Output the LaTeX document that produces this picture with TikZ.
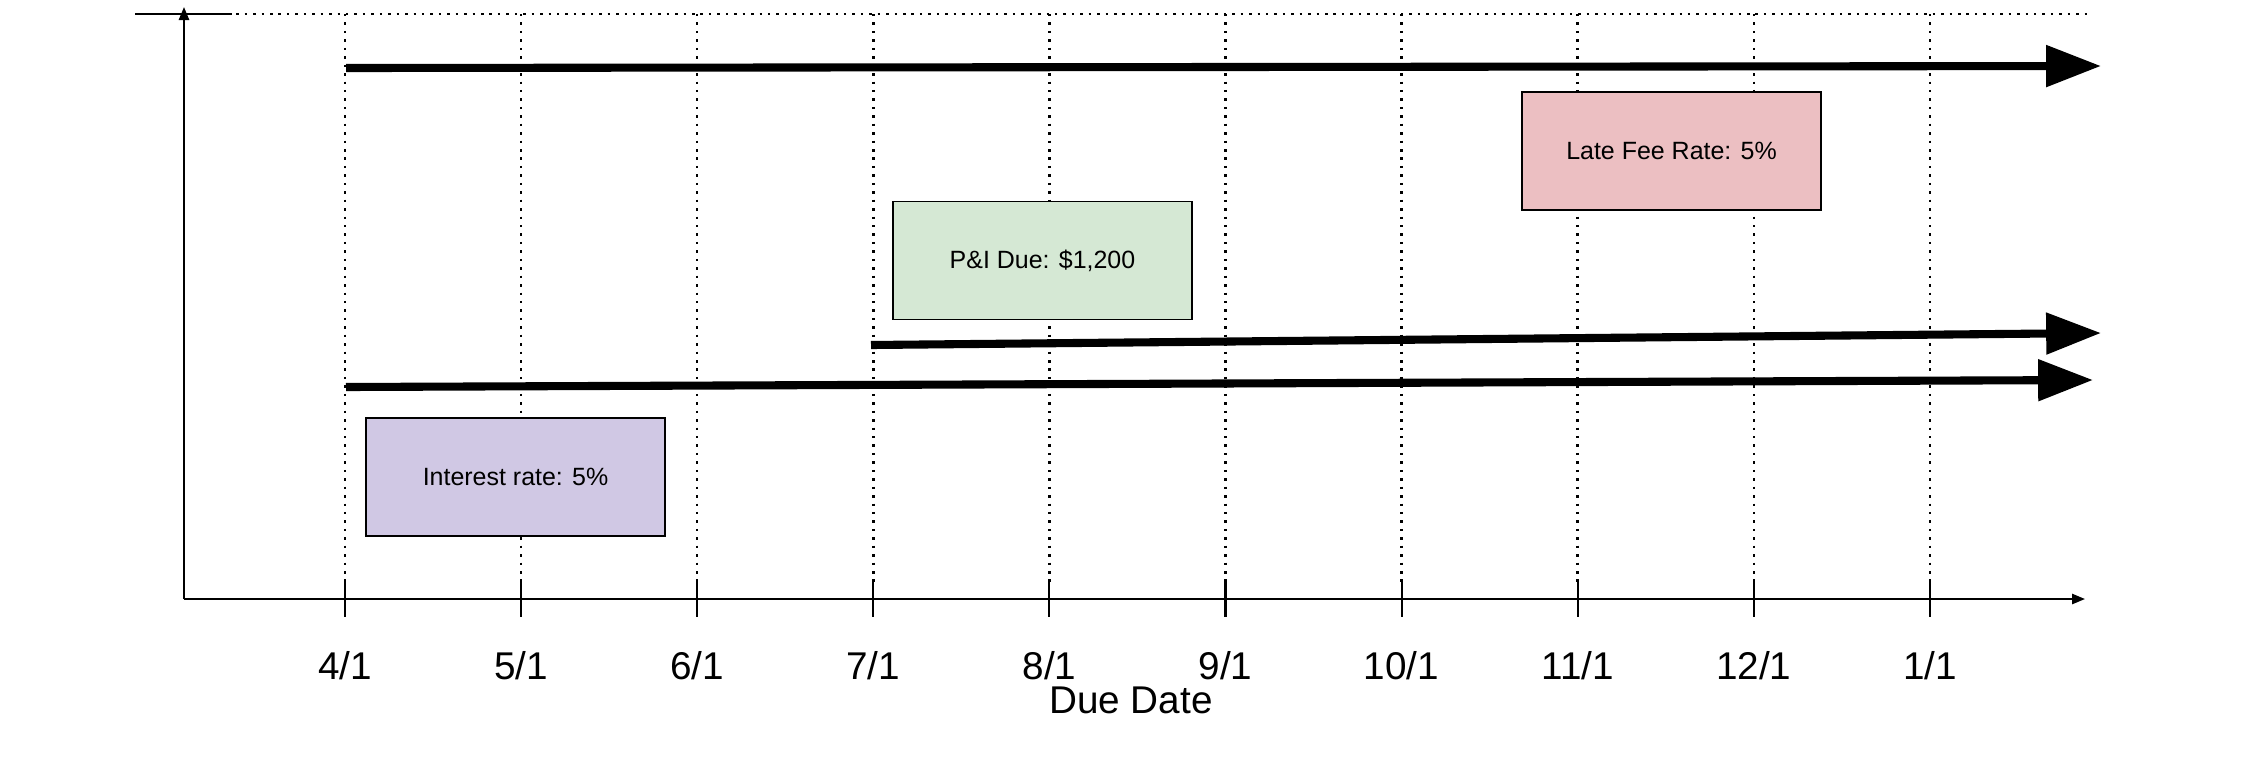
\documentclass[tikz,border=0pt]{standalone}
\usepackage{fontspec}
\setmainfont{Liberation Sans}
\usetikzlibrary{arrows.meta}
\definecolor{lavfill}{HTML}{D0C8E4}
\definecolor{greenfill}{HTML}{D5E8D4}
\definecolor{pinkfill}{HTML}{ECBFC2}
\tikzset{
  dotline/.style={line width=0.7pt, dash pattern=on 0.7pt off 1.7pt},
  axisline/.style={line width=0.6pt},
  bigarrow/.style={line width=2.3pt, -{Triangle[length=15.6pt,width=11.4pt]}},
  infobox/.style={draw=black, line width=0.5pt, minimum width=2.99cm, minimum height=1.18cm, inner sep=0pt, font=\fontsize{7.1}{8.5}\selectfont},
  ticklabel/.style={anchor=base, inner sep=0pt, font=\fontsize{11}{13}\selectfont},
}
\begin{document}
\begin{tikzpicture}[x=0.01cm,y=-0.01cm]
\useasboundingbox (0,0) rectangle (2255,760);
% axes
\coordinate (O) at (184,599);
\coordinate (ytop) at (184,7);
\coordinate (xend) at (2085,599);
\coordinate (tl) at (135,14);
\coordinate (tm) at (232,14);
\coordinate (tr) at (2088,14);
\draw[dotline] (tl) -- (tr);
\draw[axisline] (tl) -- (tm);
\draw[axisline, -{Triangle[length=3.7pt,width=2.9pt]}] (O) -- (ytop);
\draw[axisline, -{Triangle[length=3.7pt,width=2.9pt]}] (O) -- (xend);
% ticks, grid and labels
\foreach \l [count=\i from 0] in {{4/1},{5/1},{6/1},{7/1},{8/1},{9/1},{10/1},{11/1},{12/1},{1/1}} {
  \pgfmathsetmacro{\xx}{345+176.1*\i}
  \coordinate (g\i) at (\xx,14);
  \coordinate (a\i) at (\xx,599);
  \coordinate (tt\i) at (\xx,582);
  \coordinate (tb\i) at (\xx,617);
  \draw[dotline] (g\i) -- (tt\i);
  \draw[axisline] (tt\i) -- (tb\i);
  \node[ticklabel] (l\i) at (\xx,679) {\l};
}
\node[anchor=base, inner sep=0pt, font=\fontsize{11}{13}\selectfont] (title) at (1131,713) {Due Date};
% boxes
\node[infobox, fill=lavfill] (ir) at (515.5,477) {Interest rate: 5\%};
\node[infobox, fill=greenfill] (pi) at (1042.5,260.5) {P\&I Due: \$1,200};
\node[infobox, fill=pinkfill] (lf) at (1671.5,151) {Late Fee Rate: 5\%};
% big arrows
\coordinate (s1) at (346,68);
\coordinate (e1) at (2101,66);
\coordinate (s2) at (871,345);
\coordinate (e2) at (2101,333);
\coordinate (s3) at (346,387);
\coordinate (e3) at (2093,380);
\draw[bigarrow] (s1) -- (e1);
\draw[bigarrow] (s2) -- (e2);
\draw[bigarrow] (s3) -- (e3);
\end{tikzpicture}
\end{document}
